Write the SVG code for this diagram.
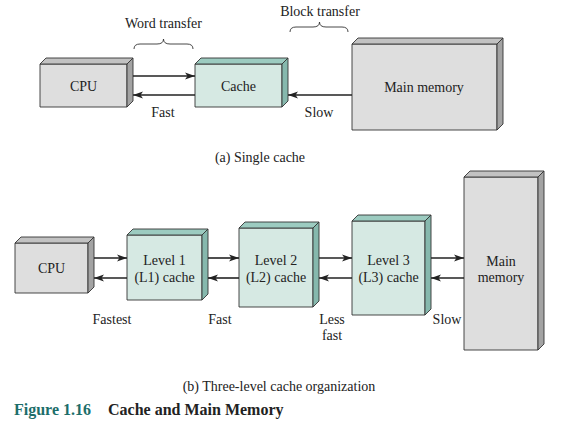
<svg xmlns="http://www.w3.org/2000/svg" width="564" height="427" viewBox="0 0 564 427">
<defs>
<style>
text{font-family:'Liberation Serif','DejaVu Serif',serif;font-size:14px;fill:#222;text-anchor:middle}
.g .f{fill:#dedede}.g .t{fill:#c2c2c2}.g .s{fill:#a3a3a3}
.c .f{fill:#d6e9e3}.c .t{fill:#9ccbc0}.c .s{fill:#86b8ad}
.f,.t,.s{stroke:#333;stroke-width:0.9;stroke-linejoin:round}
.ln{stroke:#222;stroke-width:1.6;fill:none}
.br{stroke:#333;stroke-width:0.9;fill:none}
.cap{font-size:16px;font-weight:bold;text-anchor:start}
</style>
<marker id="ah" viewBox="0 0 10 8" refX="10" refY="4" markerWidth="10" markerHeight="8" markerUnits="userSpaceOnUse" orient="auto">
<path d="M0,0.5 L10,4 L0,7.5 L2.5,4 Z" fill="#222"/>
</marker>
</defs>
<rect width="564" height="427" fill="#fff"/>

<g id="cpu-a" class="g">
<rect class="f" x="40" y="64" width="87" height="43"/>
<polygon class="t" points="40,64 46,58 133,58 127,64"/>
<polygon class="s" points="127,64 133,58 133,101 127,107"/>
<text x="83.5" y="91">CPU</text>
</g>
<g id="cache-a" class="c">
<rect class="f" x="195" y="64" width="87" height="43"/>
<polygon class="t" points="195,64 201,58 288,58 282,64"/>
<polygon class="s" points="282,64 288,58 288,101 282,107"/>
<text x="238.5" y="91">Cache</text>
</g>
<g id="mem-a" class="g">
<rect class="f" x="352" y="44" width="145" height="86"/>
<polygon class="t" points="352,44 358,38 503,38 497,44"/>
<polygon class="s" points="497,44 503,38 503,124 497,130"/>
<text x="424" y="92">Main memory</text>
</g>

<g id="cpu-b" class="g">
<rect class="f" x="15" y="243" width="73" height="50"/>
<polygon class="t" points="15,243 21,237 94,237 88,243"/>
<polygon class="s" points="88,243 94,237 94,287 88,293"/>
<text x="51.5" y="273">CPU</text>
</g>
<g id="l1" class="c">
<rect class="f" x="127" y="235" width="75" height="65"/>
<polygon class="t" points="127,235 133,229 208,229 202,235"/>
<polygon class="s" points="202,235 208,229 208,294 202,300"/>
<text x="164.5" y="265">Level 1</text>
<text x="164.5" y="282">(L1) cache</text>
</g>
<g id="l2" class="c">
<rect class="f" x="239" y="228" width="74" height="79"/>
<polygon class="t" points="239,228 245,222 319,222 313,228"/>
<polygon class="s" points="313,228 319,222 319,301 313,307"/>
<text x="276" y="265">Level 2</text>
<text x="276" y="282">(L2) cache</text>
</g>
<g id="l3" class="c">
<rect class="f" x="352" y="221" width="73" height="94"/>
<polygon class="t" points="352,221 358,215 431,215 425,221"/>
<polygon class="s" points="425,221 431,215 431,309 425,315"/>
<text x="388.5" y="265">Level 3</text>
<text x="388.5" y="282">(L3) cache</text>
</g>
<g id="mem-b" class="g">
<rect class="f" x="464" y="177" width="74" height="173"/>
<polygon class="t" points="464,177 470,171 544,171 538,177"/>
<polygon class="s" points="538,177 544,171 544,344 538,350"/>
<text x="501" y="266">Main</text>
<text x="501" y="282">memory</text>
</g>

<g id="connectors">
<line class="ln" x1="133" y1="76" x2="195" y2="76" marker-end="url(#ah)"/>
<line class="ln" x1="195" y1="95" x2="133" y2="95" marker-end="url(#ah)"/>
<line class="ln" x1="352" y1="95" x2="288" y2="95" marker-end="url(#ah)"/>
<line class="ln" x1="94" y1="258" x2="127" y2="258" marker-end="url(#ah)"/>
<line class="ln" x1="127" y1="278" x2="94" y2="278" marker-end="url(#ah)"/>
<line class="ln" x1="208" y1="258" x2="239" y2="258" marker-end="url(#ah)"/>
<line class="ln" x1="239" y1="278" x2="208" y2="278" marker-end="url(#ah)"/>
<line class="ln" x1="319" y1="258" x2="352" y2="258" marker-end="url(#ah)"/>
<line class="ln" x1="352" y1="278" x2="319" y2="278" marker-end="url(#ah)"/>
<line class="ln" x1="431" y1="258" x2="464" y2="258" marker-end="url(#ah)"/>
<line class="ln" x1="464" y1="278" x2="431" y2="278" marker-end="url(#ah)"/>
<path class="br" d="M134,49 Q134,44 140,44 L157,44 Q163.5,44 163.5,39 Q163.5,44 170,44 L187,44 Q193,44 193,49"/>
<path class="br" d="M290,32 Q290,27 296,27 L313,27 Q319.5,27 319.5,22 Q319.5,27 326,27 L342,27 Q348,27 348,32"/>
</g>

<text x="163.5" y="28">Word transfer</text>
<text x="320" y="16">Block transfer</text>
<text x="163" y="117">Fast</text>
<text x="319" y="117">Slow</text>
<text x="260" y="162">(a) Single cache</text>
<text x="112" y="324">Fastest</text>
<text x="220" y="324">Fast</text>
<text x="332" y="324">Less</text>
<text x="332" y="340">fast</text>
<text x="447" y="324">Slow</text>
<text x="279" y="391">(b) Three-level cache organization</text>
<text class="cap" x="14" y="415" style="fill:#1c6e6a">Figure 1.16</text>
<text class="cap" x="108" y="415">Cache and Main Memory</text>
</svg>
